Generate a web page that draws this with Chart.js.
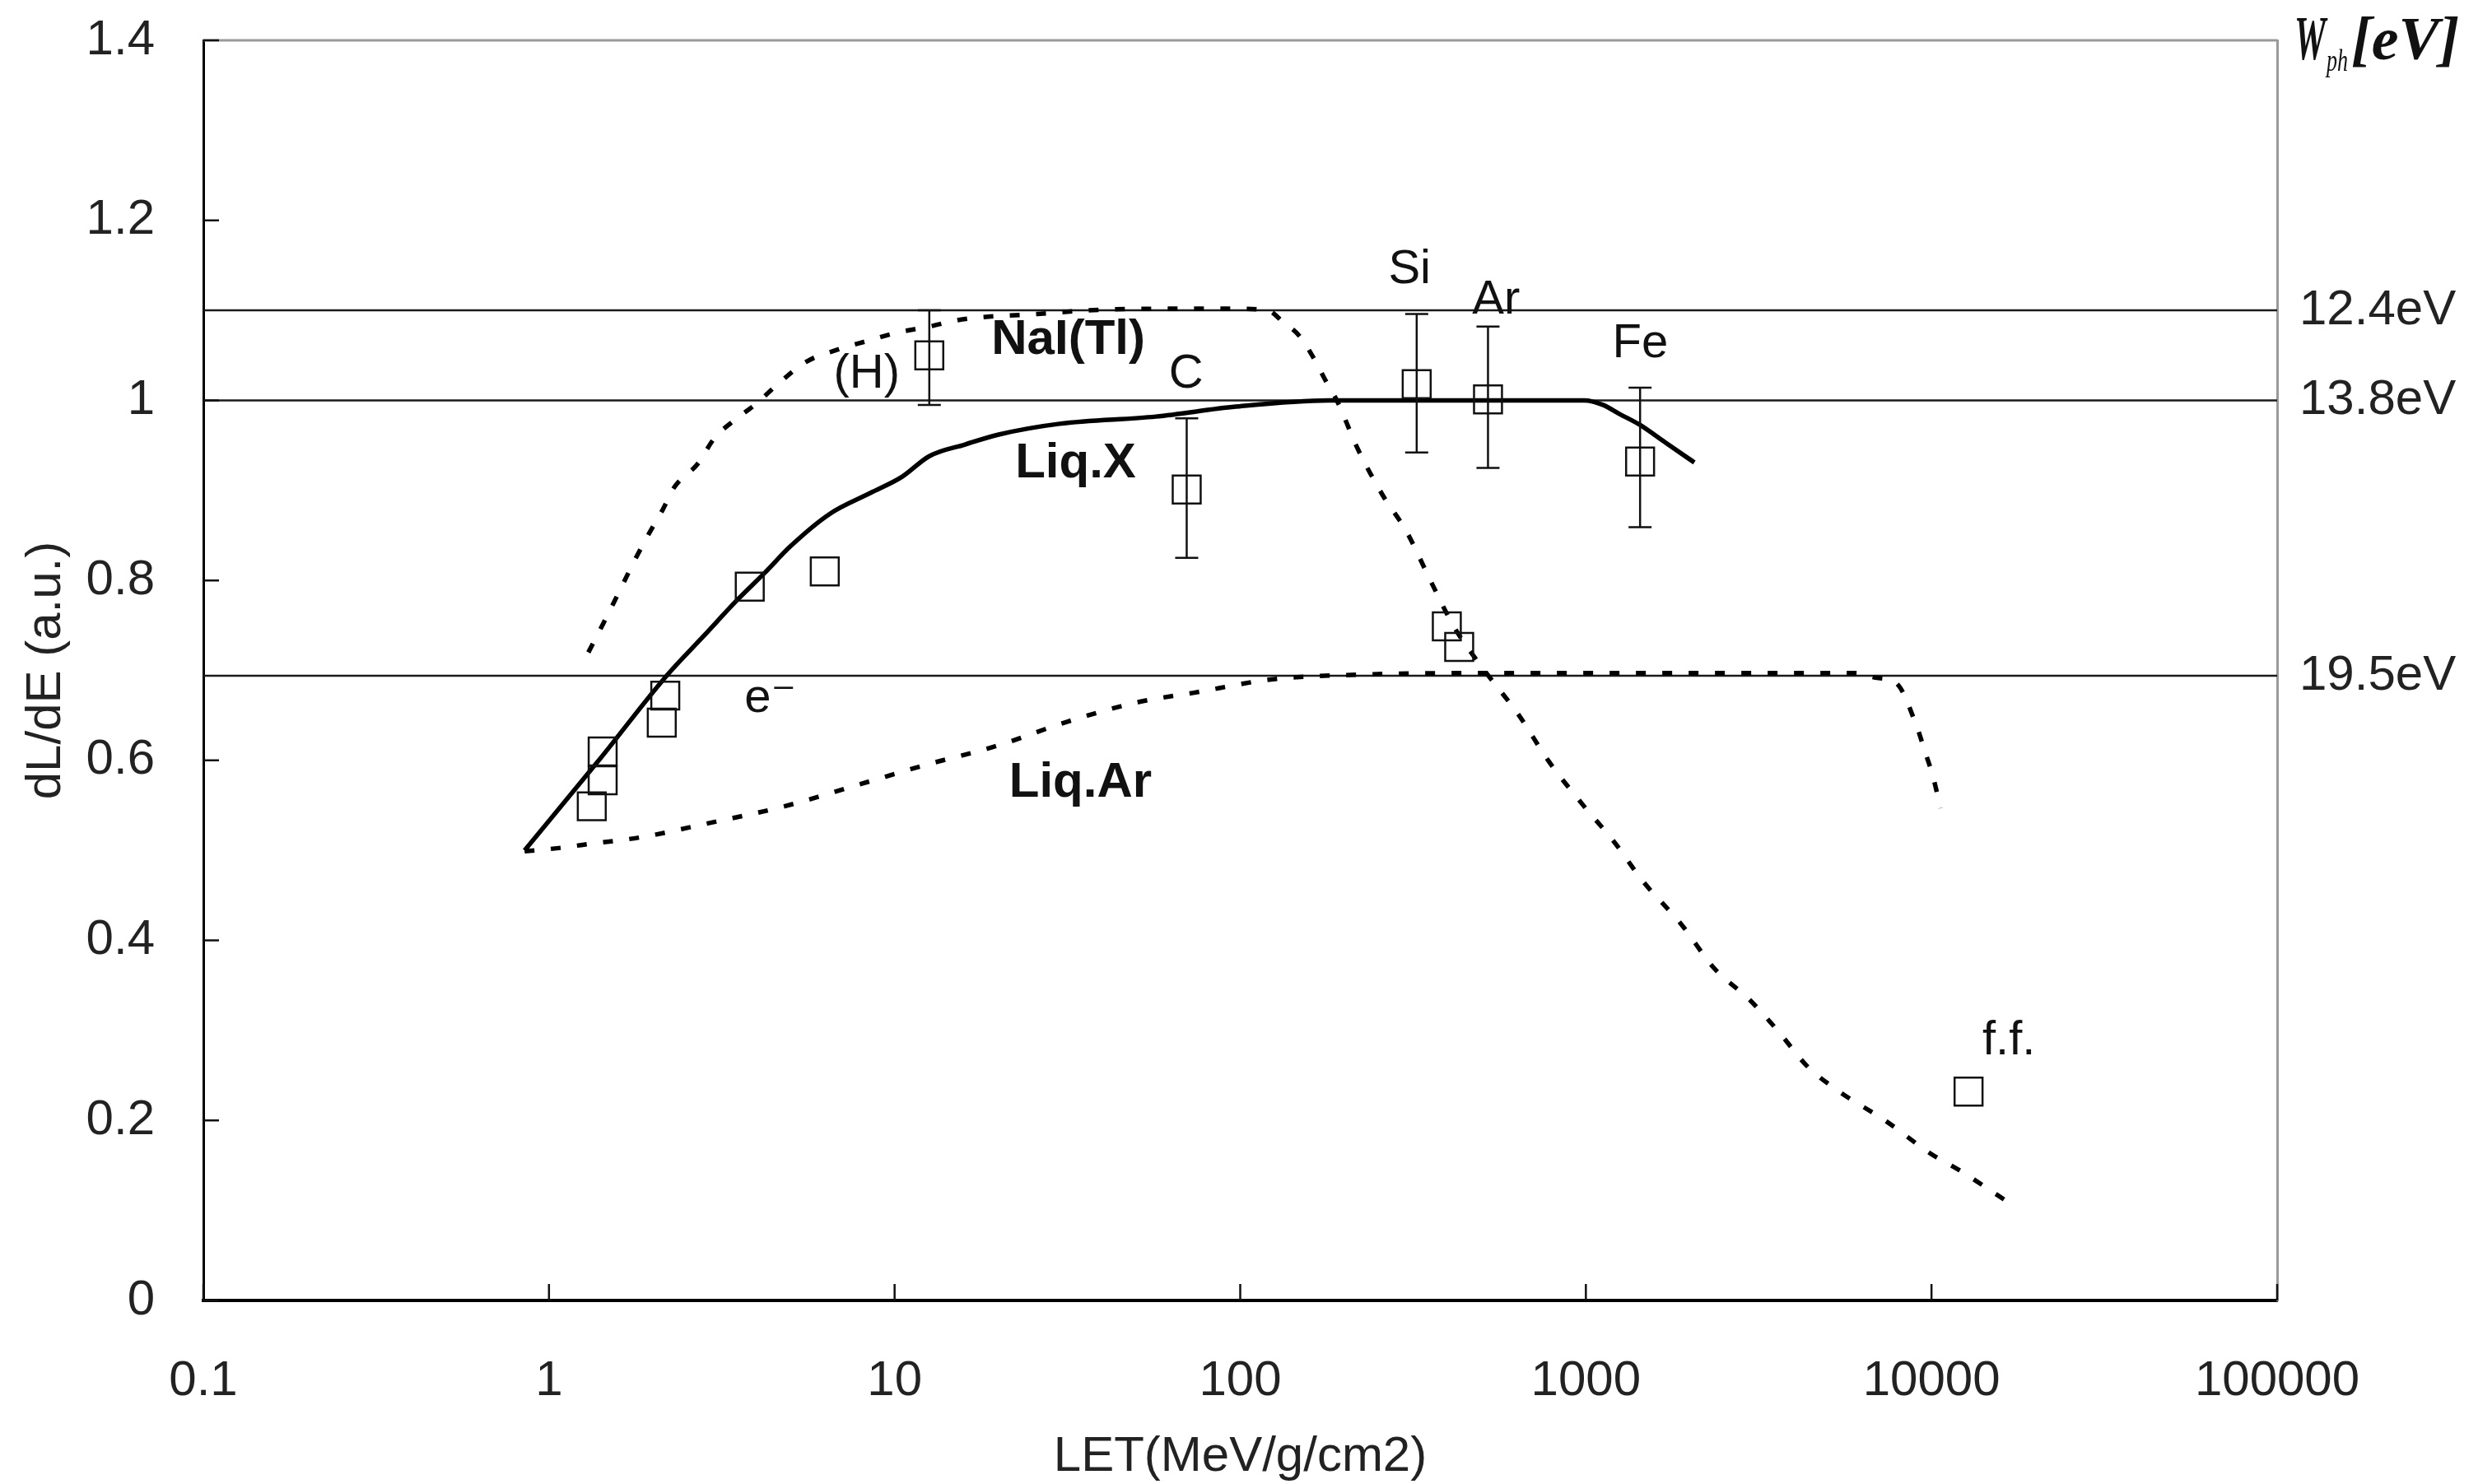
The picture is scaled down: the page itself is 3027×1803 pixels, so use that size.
<!DOCTYPE html>
<html>
<head>
<meta charset="utf-8">
<script src="https://cdn.jsdelivr.net/npm/chart.js@4.4.0/dist/chart.umd.min.js"></script>
<style>
  html, body { margin: 0; padding: 0; background: #fff; }
</style>
</head>
<body>
<canvas id="c" width="3027" height="1803"></canvas>
<script>
// ── axes ────────────────────────────────────────────────
const X_TICKS = [0.1, 1, 10, 100, 1000, 10000, 100000];
const Y_TICKS = [0, 0.2, 0.4, 0.6, 0.8, 1.0, 1.2, 1.4];

// ── curves (LET, dL/dE) ─────────────────────────────────
const LIQX_LET = [0.85, 1.4, 2.2, 2.8, 3.5, 4.2, 5.0, 6.5, 8.5, 10.5, 12.6, 16, 20, 30, 57, 97, 180, 400, 700, 990, 1120, 1250, 1430, 1700, 2060];
const LIQX_Y   = [0.500, 0.601, 0.695, 0.738, 0.778, 0.808, 0.838, 0.874, 0.897, 0.915, 0.938, 0.951, 0.962, 0.974, 0.982, 0.993, 1.000, 1.000, 1.000, 1.000, 0.995, 0.985, 0.973, 0.953, 0.931];

const NAI_LET = [1.30, 1.44, 1.58, 1.79, 1.96, 2.13, 2.30, 2.70, 3.01, 3.47, 3.94, 4.59, 5.56, 6.92, 8.34, 10.1, 12.6, 15.7, 25.9, 41.6, 91.6, 120, 133, 148, 162, 176, 192, 217, 258, 303, 357, 416, 504, 638, 781, 988, 1199, 1468, 1888, 2352, 2978, 3605, 4350, 5320, 7400, 9950, 12000, 16400];
const NAI_Y   = [0.720, 0.753, 0.784, 0.826, 0.854, 0.878, 0.903, 0.930, 0.958, 0.979, 0.995, 1.018, 1.043, 1.057, 1.066, 1.075, 1.082, 1.090, 1.096, 1.101, 1.102, 1.100, 1.087, 1.072, 1.049, 1.023, 0.997, 0.949, 0.895, 0.854, 0.798, 0.748, 0.702, 0.651, 0.599, 0.549, 0.511, 0.465, 0.418, 0.369, 0.334, 0.299, 0.261, 0.234, 0.199, 0.163, 0.145, 0.111];

const LIQAR_LET = [0.85, 1.09, 1.24, 1.87, 2.80, 4.8, 7.7, 12.3, 19.7, 31.6, 51, 73, 123, 209, 500, 1000, 3000, 6040, 6860, 7900, 9060, 9570, 10100, 10620];
const LIQAR_Y   = [0.499, 0.503, 0.506, 0.515, 0.529, 0.549, 0.572, 0.595, 0.616, 0.643, 0.665, 0.675, 0.690, 0.695, 0.697, 0.697, 0.697, 0.697, 0.692, 0.686, 0.638, 0.610, 0.582, 0.547];

// ── measured points (squares) + error bars ─────────────
const MEAS_LET = [1.33, 1.43, 1.43, 2.12, 2.17, 3.81, 6.28, 12.6, 70, 324, 521, 1435, 396, 430, 12800];
const MEAS_Y   = [0.549, 0.578, 0.610, 0.642, 0.672, 0.793, 0.810, 1.050, 0.901, 1.018, 1.001, 0.932, 0.749, 0.726, 0.232];
const MEAS_LO  = [null, null, null, null, null, null, null, 0.995, 0.825, 0.942, 0.925, 0.859, null, null, null];
const MEAS_HI  = [null, null, null, null, null, null, null, 1.100, 0.980, 1.096, 1.082, 1.014, null, null, null];

// ── W_ph reference levels ──────────────────────────────
const W_LEVELS = [1.1, 1.0, 0.694];
const W_LABELS = ["12.4eV", "13.8eV", "19.5eV"];

// ── text labels in the plot (data coords) ──────────────
const NOTE_TEXT = ["NaI(Tl)", "Liq.X", "Liq.Ar", "(H)", "C", "e⁻", "Si", "Ar", "Fe", "f.f."];
const NOTE_LET  = [31.8, 33.4, 34.5, 8.3, 69.7, 4.37, 309, 550, 1436, 16750];
const NOTE_Y    = [1.067, 0.930, 0.575, 1.029, 1.029, 0.668, 1.145, 1.111, 1.063, 0.288];
const NOTE_BOLD = [true, true, true, false, false, false, false, false, false, false];

const FONT = '"Liberation Sans", Arial, "DejaVu Sans", sans-serif';
Chart.defaults.font.family = FONT;
Chart.defaults.color = "#222";

const toXY = (xs, ys) => xs.map((x, i) => ({ x, y: ys[i] }));

function refLine(level) {
  return {
    type: "line",
    data: [{ x: X_TICKS[0], y: level }, { x: X_TICKS[X_TICKS.length - 1], y: level }],
    borderColor: "#1a1a1a",
    borderWidth: 2.5,
    pointRadius: 0,
    order: 5,
  };
}

function curve(xs, ys, dash, width) {
  return {
    type: "line",
    data: toXY(xs, ys),
    borderColor: "#000",
    borderWidth: width,
    borderDash: dash,
    borderCapStyle: "butt",
    pointRadius: 0,
    cubicInterpolationMode: "monotone",
    order: 3,
  };
}

// ── 裝飾：誤差棒、內側刻度、上框線、文字 ───────────────
const decor = {
  id: "decor",
  afterDatasetsDraw(chart) {
    const { ctx, scales: { x, y } } = chart;
    ctx.save();
    ctx.strokeStyle = "#111";
    ctx.lineWidth = 2.5;
    MEAS_LET.forEach((v, i) => {
      if (MEAS_LO[i] == null) return;
      const px = x.getPixelForValue(v);
      const lo = y.getPixelForValue(MEAS_LO[i]);
      const hi = y.getPixelForValue(MEAS_HI[i]);
      ctx.beginPath();
      ctx.moveTo(px, lo); ctx.lineTo(px, hi);
      ctx.moveTo(px - 14, lo); ctx.lineTo(px + 14, lo);
      ctx.moveTo(px - 14, hi); ctx.lineTo(px + 14, hi);
      ctx.stroke();
    });
    ctx.restore();
  },
  afterDraw(chart) {
    const { ctx, chartArea: a, scales: { x, y } } = chart;
    ctx.save();

    // top frame line (gray)
    ctx.strokeStyle = "#9a9a9a";
    ctx.lineWidth = 3;
    ctx.beginPath();
    ctx.moveTo(a.left, a.top);
    ctx.lineTo(a.right, a.top);
    ctx.stroke();

    // inward tick marks
    ctx.strokeStyle = "#111";
    ctx.lineWidth = 2.5;
    ctx.beginPath();
    Y_TICKS.forEach(v => {
      const py = y.getPixelForValue(v);
      ctx.moveTo(a.left, py); ctx.lineTo(a.left + 19, py);
    });
    X_TICKS.forEach(v => {
      const px = x.getPixelForValue(v);
      ctx.moveTo(px, a.bottom); ctx.lineTo(px, a.bottom - 20);
    });
    ctx.stroke();

    // labels inside the plot
    ctx.fillStyle = "#111";
    ctx.textAlign = "center";
    ctx.textBaseline = "middle";
    NOTE_TEXT.forEach((t, i) => {
      ctx.font = NOTE_BOLD[i] ? `bold 60px ${FONT}` : `58px ${FONT}`;
      ctx.fillText(t, x.getPixelForValue(NOTE_LET[i]), y.getPixelForValue(NOTE_Y[i]));
    });

    // right axis title  W_ph [eV]
    const serif = '"Liberation Serif", "DejaVu Serif", serif';
    ctx.textAlign = "left";
    ctx.textBaseline = "alphabetic";
    ctx.font = `italic bold 76px ${serif}`;
    ctx.fillText("W", 2787, 72, 38);
    ctx.font = `italic 38px ${serif}`;
    ctx.fillText("ph", 2826, 86, 26);
    ctx.font = `italic bold 74px ${serif}`;
    ctx.fillText("[eV]", 2856, 72, 162);

    ctx.restore();
  },
};

new Chart(document.getElementById("c"), {
  data: {
    datasets: [
      ...W_LEVELS.map(refLine),
      curve(NAI_LET, NAI_Y, [12, 20], 5.5),
      curve(LIQAR_LET, LIQAR_Y, [12, 20], 5.5),
      curve(LIQX_LET, LIQX_Y, [], 5.5),
      {
        type: "scatter",
        data: toXY(MEAS_LET, MEAS_Y),
        pointStyle: "rect",
        pointRadius: 24,
        borderWidth: 2.5,
        borderColor: "#111",
        backgroundColor: "rgba(0,0,0,0)",
        order: 1,
      },
    ],
  },
  options: {
    responsive: false,
    animation: false,
    devicePixelRatio: 1,
    layout: { padding: { top: 49, left: 0, right: 0, bottom: 0 } },
    plugins: { legend: { display: false }, tooltip: { enabled: false } },
    scales: {
      x: {
        type: "logarithmic",
        position: "bottom",
        min: 0.1,
        max: 100000,
        afterBuildTicks(s) { s.ticks = X_TICKS.map(v => ({ value: v })); },
        afterFit(s) { s.height = 223; },
        ticks: {
          autoSkip: false,
          maxRotation: 0,
          padding: 0,
          font: { size: 60 },
          color: "#222",
          callback: v => String(v),
        },
        grid: { display: false, drawTicks: true, tickLength: 62 },
        border: { color: "#000", width: 4 },
        title: {
          display: true,
          text: "LET(MeV/g/cm2)",
          font: { size: 60, lineHeight: 1 },
          color: "#222",
          padding: { top: 3, bottom: 3 },
        },
      },
      y: {
        type: "linear",
        position: "left",
        min: 0,
        max: 1.4,
        afterBuildTicks(s) { s.ticks = Y_TICKS.map(v => ({ value: v })); },
        afterFit(s) { s.width = 247; },
        ticks: {
          autoSkip: false,
          padding: 0,
          font: { size: 60 },
          color: "#222",
          callback: v => String(+v.toFixed(1)),
        },
        grid: { display: false, drawTicks: true, tickLength: 59 },
        border: { color: "#000", width: 3 },
        title: {
          display: true,
          text: "dL/dE (a.u.)",
          font: { size: 60, lineHeight: 1 },
          color: "#222",
          padding: { top: 26, bottom: 0 },
        },
      },
      y2: {
        type: "linear",
        position: "right",
        min: 0,
        max: 1.4,
        afterBuildTicks(s) { s.ticks = W_LEVELS.map(v => ({ value: v })); },
        afterFit(s) { s.width = 261; },
        ticks: {
          autoSkip: false,
          padding: 0,
          font: { size: 60 },
          color: "#222",
          callback: (v, i) => W_LABELS[i],
        },
        grid: { display: false, drawTicks: true, tickLength: 27 },
        border: { color: "#9a9a9a", width: 3 },
      },
    },
  },
  plugins: [decor],
});
</script>
</body>
</html>
